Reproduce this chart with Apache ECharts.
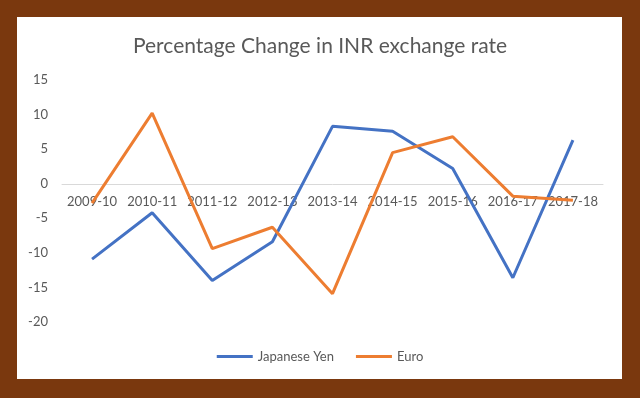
<!DOCTYPE html>
<html>
<head>
<meta charset="utf-8">
<script src="https://cdn.jsdelivr.net/npm/echarts@6/dist/echarts.min.js"></script>
<style>
  html, body { margin: 0; padding: 0; background: #7a380e; }
  #chart { width: 640px; height: 398px; }
</style>
</head>
<body>
<div id="chart"></div>
<script>
const years = ['2009-10', '2010-11', '2011-12', '2012-13', '2013-14', '2014-15', '2015-16', '2016-17', '2017-18'];
const yen = [-10.9, -4.2, -14.0, -8.4, 8.3, 7.6, 2.2, -13.6, 6.3];
const euro = [-2.8, 10.2, -9.4, -6.3, -15.9, 4.5, 6.8, -1.8, -2.4];

var chart = echarts.init(document.getElementById('chart'));
var textColor = '#595959';
var font = 'Lato, "Open Sans", sans-serif';

option = {
  backgroundColor: '#7a380e',
  textStyle: { fontFamily: font },
  graphic: [{
    type: 'rect',
    left: 17, top: 17, z: -10,
    shape: { width: 605, height: 362 },
    style: { fill: '#ffffff' }
  }],
  title: {
    text: 'Percentage Change in INR exchange rate',
    left: 'center',
    top: 31,
    textStyle: { color: textColor, fontSize: 21, fontWeight: 'normal', fontFamily: font }
  },
  legend: {
    bottom: 30,
    left: 'center',
    itemWidth: 36,
    itemHeight: 3,
    itemGap: 22,
    icon: 'rect',
    textStyle: { color: textColor, fontSize: 13, fontFamily: font },
    data: ['Japanese Yen', 'Euro']
  },
  grid: { left: 62, right: 37, top: 80, bottom: 76 },
  xAxis: {
    type: 'category',
    data: years,
    offset: -138,
    axisLine: { onZero: false, lineStyle: { color: '#d9d9d9', width: 1 } },
    axisTick: { show: false },
    axisLabel: { color: textColor, fontSize: 13, margin: 11, interval: 0 }
  },
  yAxis: {
    type: 'value',
    min: -20, max: 15, interval: 5,
    splitLine: { show: false },
    axisLine: { show: false },
    axisTick: { show: false },
    axisLabel: { color: textColor, fontSize: 13, margin: 14 }
  },
  series: [
    {
      name: 'Japanese Yen', type: 'line', data: yen,
      showSymbol: false, color: '#4472c4',
      lineStyle: { width: 3 }
    },
    {
      name: 'Euro', type: 'line', data: euro,
      showSymbol: false, color: '#ed7d31',
      lineStyle: { width: 3 }
    }
  ]
};
chart.setOption(option);
</script>
</body>
</html>
